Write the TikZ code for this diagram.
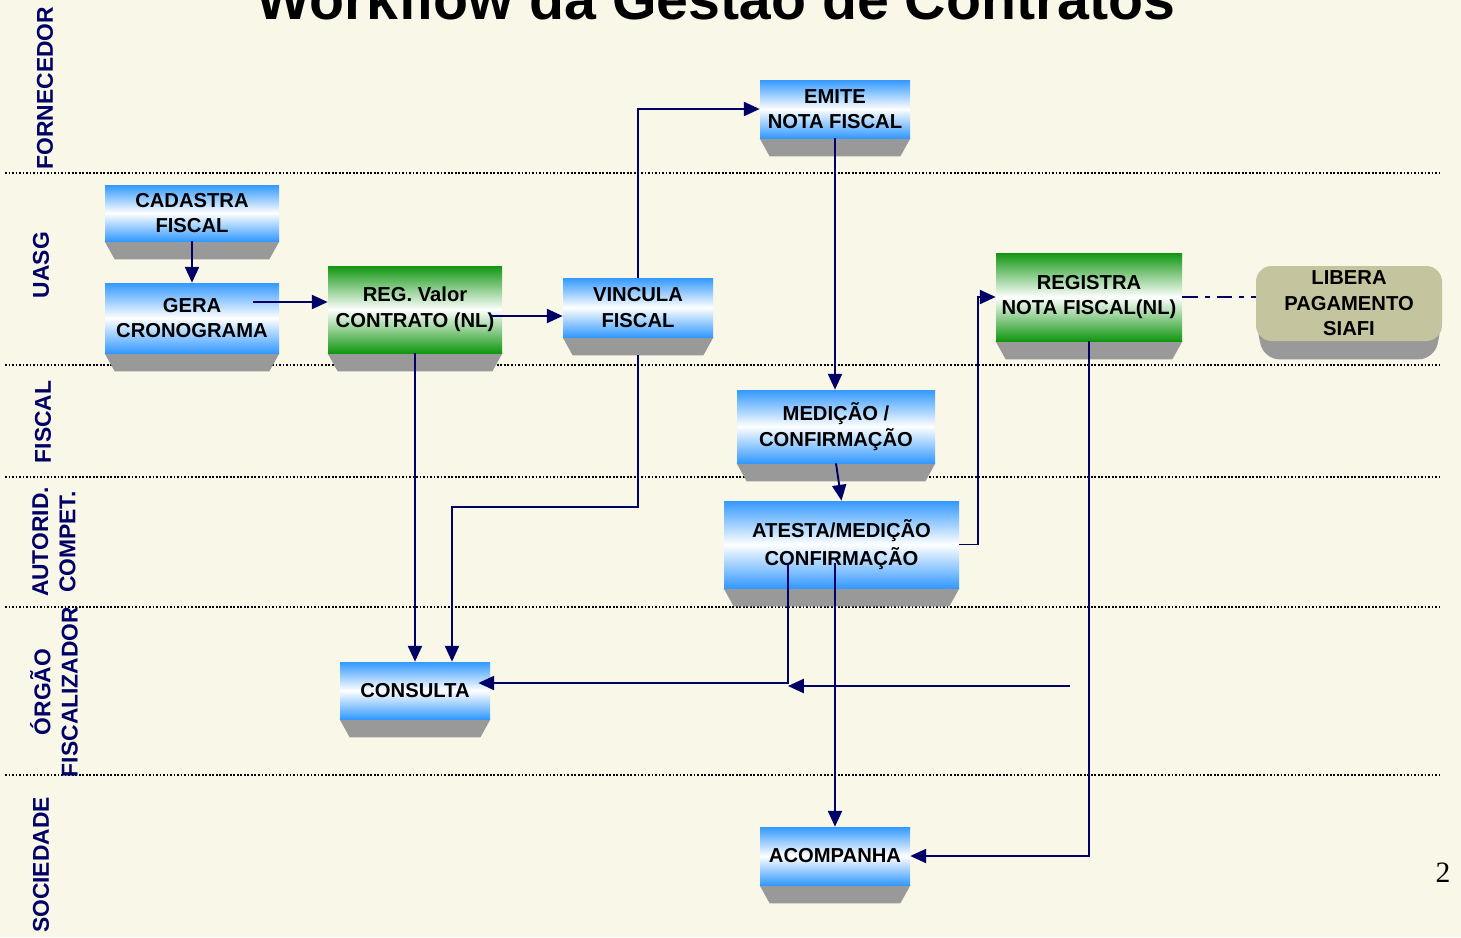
\documentclass[tikz,border=0pt]{standalone}
\usepackage{fontspec}
\setmainfont{Liberation Sans}
\newfontfamily\serifa{Liberation Serif}
\usetikzlibrary{arrows.meta,calc}
\pgfdeclarelayer{background}
\pgfsetlayers{background,main}

\definecolor{creme}{RGB}{248,247,232}
\definecolor{azul}{RGB}{0,0,102}
\definecolor{celeste}{RGB}{51,153,255}
\definecolor{verde}{RGB}{17,150,17}
\definecolor{caqui}{RGB}{196,196,158}
\definecolor{cinza}{RGB}{153,153,153}

\def\u{0.02cm}

\tikzset{
  caixa/.style={rectangle, align=center, inner sep=0pt,
    font=\fontsize{11.5}{14.5}\selectfont\bfseries},
  tarefa/.style={caixa, top color=celeste, bottom color=celeste, middle color=white},
  nl/.style={top color=verde, bottom color=verde, middle color=white},
  tam/.style 2 args={minimum width=#1*\u, minimum height=#2*\u},
  raia/.style={rotate=90, text=azul, align=center,
    font=\fontsize{13}{15.5}\selectfont\bfseries},
  seta/.style={draw=azul, line width=1.1pt, -{Triangle[length=9pt,width=8pt]}},
  divisa/.style={densely dotted, line width=1pt},
  base/.style={fill=cinza}
}

\begin{document}
\begin{tikzpicture}[x=0.02cm, y=-0.02cm]
  \useasboundingbox (0,0) rectangle (1461,937);
  \begin{pgfonlayer}{background}
    \fill[creme] (0,0) rectangle (1461,937);
    \foreach \y in {173,365,477,607,775}
      \draw[divisa] (5,\y) -- (1441,\y);
    \node[raia] (fornecedor) at (45,88) {FORNECEDOR};
    \node[raia] (uasg) at (41,265) {UASG};
    \node[raia] (fiscal) at (43,422) {FISCAL};
    \node[raia] (autorid) at (54,542) {AUTORID.\\COMPET.};
    \node[raia] (orgao) at (54,692) {ÓRGÃO\\FISCALIZADOR};
    \node[raia] (sociedade) at (41,865) {SOCIEDADE};
  \end{pgfonlayer}

  \node[anchor=base, font=\fontsize{32.6}{36}\selectfont\bfseries] (titulo) at (716,19)
    {Workflow da Gestão de Contratos};

  % tarefas
  \node[tarefa, tam={174}{56}] (cadastra) at (192,213) {CADASTRA\\FISCAL};
  \node[tarefa, tam={174}{70}] (gera) at (192,318) {GERA\\CRONOGRAMA};
  \node[tarefa, nl, tam={174}{87}] (reg) at (415,309.5) {REG. Valor\\CONTRATO (NL)};
  \node[tarefa, tam={150}{59}] (vincula) at (638,307.5) {VINCULA\\FISCAL};
  \node[tarefa, tam={150}{58}] (emite) at (835,109) {EMITE\\NOTA FISCAL};
  \node[tarefa, tam={198}{73}] (medicao) at (836,426.5) {MEDIÇÃO /\\CONFIRMAÇÃO};
  \node[tarefa, tam={235}{87}, font=\fontsize{11.5}{16}\selectfont\bfseries] (atesta) at (841.5,544.5)
    {ATESTA/MEDIÇÃO\\CONFIRMAÇÃO};
  \node[tarefa, nl, tam={186}{88}] (registra) at (1089,297) {REGISTRA\\NOTA FISCAL(NL)};
  \node[caixa, fill=caqui, rounded corners=9pt, tam={186}{75}] (libera) at (1349,303.5)
    {LIBERA\\PAGAMENTO\\SIAFI};
  \node[tarefa, tam={150}{57}] (consulta) at (415,690.5) {CONSULTA};
  \node[tarefa, tam={150}{58}] (acompanha) at (835,856) {ACOMPANHA};
  \node[font=\fontsize{16.8}{18}\selectfont\serifa] (pagina) at (1443,873) {2};

  % bases
  \begin{pgfonlayer}{background}
    \foreach \n in {cadastra,gera,reg,vincula,emite,medicao,atesta,registra,consulta,acompanha}
      \fill[base] (\n.south west) -- (\n.south east) -- ++(-10,18)
        -- ($(\n.south west)+(10,18)$) -- cycle;
    \fill[base, rounded corners=9pt] ($(libera.south west)+(0,-20)$) -- ($(libera.south west)+(8,18)$)
      -- ($(libera.south east)+(-8,18)$) -- ($(libera.south east)+(0,-20)$) -- cycle;
  \end{pgfonlayer}

  % fluxo
  \draw[seta] (cadastra.south) -- (gera.north);
  \draw[seta] ($(gera.east)+(-26,-16)$) coordinate (g1) -- (g1 -| reg.west);
  \draw[seta] ($(reg.east)+(-12,6.5)$) coordinate (r1) -- (r1 -| vincula.west);
  \draw[seta] (vincula.north) |- (emite.west);
  \draw[seta] (emite.south) -- (emite.south |- medicao.north);
  \draw[seta] (medicao.south) -- (atesta.north);
  \draw[seta] (atesta.east) -- ++(19,0) |- (registra.west);
  \draw[draw=azul, line width=1.1pt, dash pattern=on 9pt off 4pt on 2.5pt off 4pt]
    (registra.east) -- (registra.east -| libera.west);
  \draw[seta] (reg.south) -- (consulta.north);
  \draw[seta] ($(vincula.south)+(0,18)$) -- ++(0,152) -| ($(consulta.north)+(37,0)$);
  \draw[seta] ($(atesta.center)+(-53.5,18.5)$) coordinate (a1) |- ($(consulta.east)+(-12,-7.5)$);
  \coordinate (livre) at (1070,686);
  \draw[seta] (livre) -- (livre -| a1);
  \draw[seta] ($(atesta.center)+(-6.5,18.5)$) coordinate (a2) -- (a2 |- acompanha.north);
  \draw[seta] (registra.south) |- (acompanha.east);
\end{tikzpicture}
\end{document}
